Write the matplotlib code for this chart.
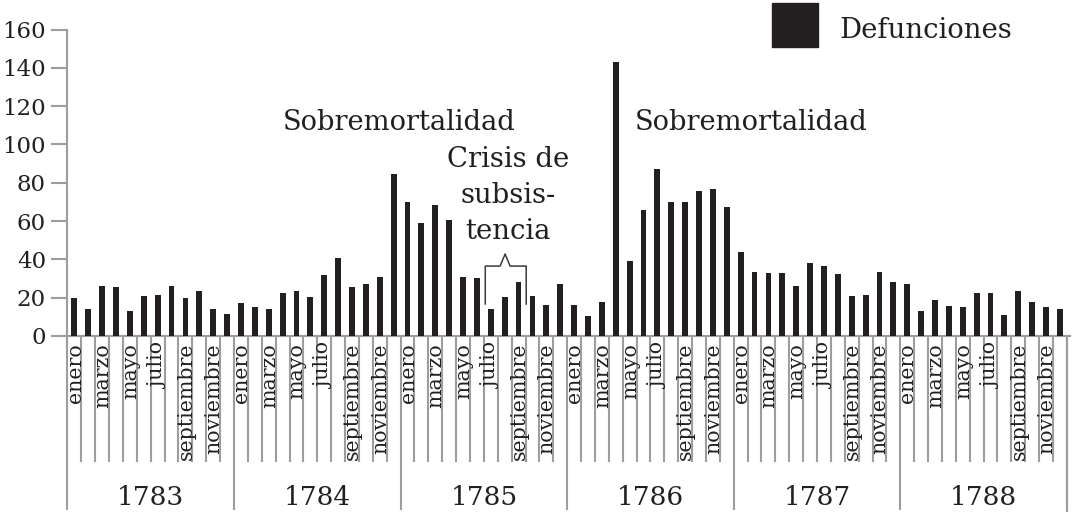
import numpy as np
import matplotlib
matplotlib.use("Agg")
import matplotlib.pyplot as plt
from matplotlib.patches import Rectangle

# Monthly deaths, 1783-1788
years = [1783, 1784, 1785, 1786, 1787, 1788]
months = ["enero", "febrero", "marzo", "abril", "mayo", "junio", "julio",
          "agosto", "septiembre", "octubre", "noviembre", "diciembre"]
d1783 = [20, 14, 26, 25.5, 13, 21, 21.5, 26, 20, 23.5, 14, 11.5]
d1784 = [17, 15, 14, 22.5, 23.5, 20.5, 32, 40.5, 25.5, 27, 31, 84.5]
d1785 = [70, 59, 68.5, 60.5, 31, 30.5, 14, 20.5, 28, 21, 16, 27]
d1786 = [16, 10.5, 17.5, 143, 39, 66, 87, 70, 70, 75.5, 76.5, 67.5]
d1787 = [44, 33.5, 33, 33, 26, 38, 36.5, 32.5, 21, 21.5, 33.5, 28]
d1788 = [27, 13, 19, 15.5, 15, 22.5, 22.5, 11, 23.5, 18, 15, 14]
deaths = d1783 + d1784 + d1785 + d1786 + d1787 + d1788

dark = "#231f20"
grey = "#9d9d9f"
serif = "DejaVu Serif"

fig = plt.figure(figsize=(10.74, 5.17), dpi=100)
ax = fig.add_axes([0.0628, 0.3501, 0.9334, 0.5928])

x = np.arange(len(deaths))
ax.bar(x, deaths, width=0.42, color=dark, zorder=3)

ax.set_xlim(-0.5, 71.72)
ax.set_ylim(0, 160)

for s in ["top", "right"]:
    ax.spines[s].set_visible(False)
for s in ["left", "bottom"]:
    ax.spines[s].set_color(grey)
    ax.spines[s].set_linewidth(1.5)

ax.set_yticks(np.arange(0, 161, 20))
ax.tick_params(axis="y", length=11.5, width=1.5, color=grey, pad=4,
               labelsize=16.5, labelcolor=dark)
for lab in ax.get_yticklabels():
    lab.set_fontfamily(serif)

# month boundaries (minor) and year boundaries (major)
ax.set_xticks(np.arange(-0.5, 72, 12))
ax.set_xticks(np.arange(-0.5, 72, 1), minor=True)
ax.tick_params(axis="x", which="major", length=125, width=1.5, color=grey,
               labelbottom=False)
ax.tick_params(axis="x", which="minor", length=90.5, width=1.5, color=grey,
               labelbottom=False)
ax.axvline(71.5, ymin=-0.570, ymax=0, color=grey, lw=1.5, clip_on=False)

# month labels (odd months only)
for i in range(len(deaths)):
    if i % 2 == 0:
        ax.annotate(months[i % 12], (i + 0.05, 0), xytext=(0, -5),
                    textcoords="offset points", rotation=90, ha="center",
                    va="top", fontsize=14.8, color=dark, family=serif,
                    annotation_clip=False)

# year labels
for k, yr in enumerate(years):
    ax.annotate(str(yr), (12 * k + 5.5, 0), xytext=(0, -116),
                textcoords="offset points", ha="center", va="center",
                fontsize=19, color=dark, family=serif, annotation_clip=False)

# annotations
ax.text(23.4, 111.5, "Sobremortalidad", ha="center", va="center",
        fontsize=19.6, color=dark, family=serif)
ax.text(48.75, 111.5, "Sobremortalidad", ha="center", va="center",
        fontsize=19.6, color=dark, family=serif)
for txt, yy in [("Crisis de", 92), ("subsis-", 73.5), ("tencia", 54.3)]:
    ax.text(31.25, yy, txt, ha="center", va="center", fontsize=19.8,
            color=dark, family=serif)

# bracket over the crisis months (julio-septiembre 1785)
b0, b1, mid = 29.6, 32.55, 31.03
bx = [b0, b0, mid - 0.36, mid, mid + 0.36, b1, b1]
by = [16.7, 36.5, 36.5, 42.8, 36.5, 36.5, 16.7]
ax.plot(bx, by, color="#3a3a3a", lw=1.1, zorder=4)

# legend
fig.patches.append(Rectangle((772 / 1074, 1 - 47 / 517), 46 / 1074, 44 / 517,
                             transform=fig.transFigure, color=dark))
fig.text(839 / 1074, 1 - 31 / 517, "Defunciones", ha="left", va="center",
         fontsize=19.8, color=dark, family=serif)

fig.savefig("out.png", dpi=100)
